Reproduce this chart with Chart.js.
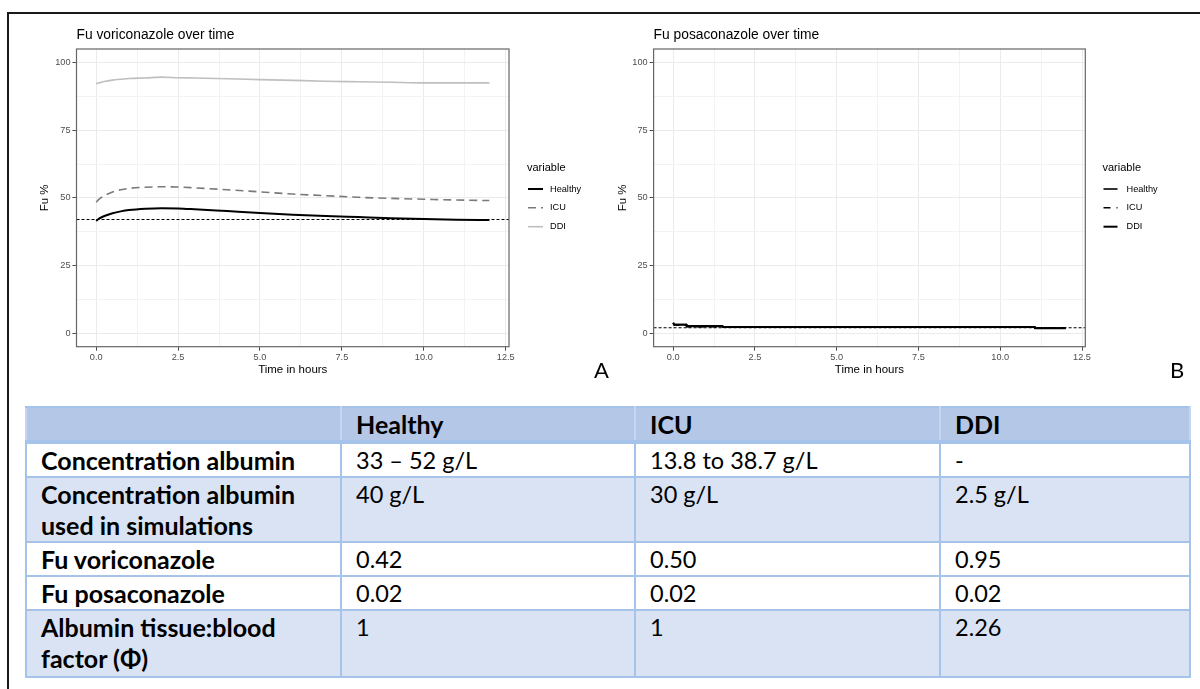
<!DOCTYPE html>
<html>
<head>
<meta charset="utf-8">
<script src="https://cdn.jsdelivr.net/npm/chart.js@4.4.1/dist/chart.umd.min.js"></script>
<style>
html,body{margin:0;padding:0;background:#fff;}
body{width:1200px;height:689px;overflow:hidden;position:relative;font-family:"Liberation Sans",Arial,sans-serif;}
#frameTop{position:absolute;left:7px;top:12px;width:1193px;height:2px;background:#1a1a1a;}
#frameLeft{position:absolute;left:7px;top:12px;width:2px;height:677px;background:#1a1a1a;}
.wrap{position:absolute;top:0;width:600px;height:390px;}
#wrapA{left:0;} #wrapB{left:600px;}
.tag{position:absolute;top:359px;font-family:Lato,"Open Sans",sans-serif;font-size:22px;line-height:22px;color:#000;}
#tbl{position:absolute;left:25px;top:405.5px;border-collapse:collapse;table-layout:fixed;width:1164px;font-family:Lato,"Open Sans",sans-serif;font-size:23.5px;color:#000;}
#tbl td,#tbl th{border:2.5px solid #a6c4e9;padding:1px 10px 0 14px;line-height:31px;vertical-align:top;text-align:left;font-weight:normal;}
#tbl th{background:#b4c7e7;font-weight:bold;font-size:25px;border-bottom:4px solid #a6c4e9;border-left-color:#c6d6ef;border-right-color:#c6d6ef;}
#tbl td:first-child{font-weight:bold;font-size:25px;}
#tbl tr.r1 td,#tbl tr.r3 td,#tbl tr.r4 td{background:#ffffff;}
#tbl tr.r2 td,#tbl tr.r5 td{background:#dae3f3;}
#tbl tr.h{height:34px;} #tbl tr.r1{height:34px;} #tbl tr.r2{height:65.8px;}
#tbl tr.r3{height:33px;} #tbl tr.r4{height:33.5px;} #tbl tr.r5{height:66.5px;}
</style>
</head>
<body>
<div id="frameTop"></div>
<div id="frameLeft"></div>
<div class="wrap" id="wrapA"><canvas id="chartA" width="600" height="390"></canvas></div>
<div class="wrap" id="wrapB"><canvas id="chartB" width="600" height="390"></canvas></div>
<div class="tag" style="left:594px;">A</div>
<div class="tag" style="left:1170px;">B</div>
<table id="tbl">
<colgroup><col style="width:315px"><col style="width:294px"><col style="width:305px"><col style="width:250px"></colgroup>
<thead><tr class="h" id="headRow"></tr></thead>
<tbody id="tbody"></tbody>
</table>
<script>
// ---------- data: panel A (voriconazole) ----------
const timeVori    = [0, 0.1, 0.25, 0.5, 0.75, 1, 1.5, 2, 2.5, 3, 4, 5, 6, 7, 8, 9, 10, 11, 12];
const healthyVori = [41.5, 42.4, 43.3, 44.3, 45.0, 45.5, 46.0, 46.2, 46.1, 45.8, 45.1, 44.4, 43.8, 43.3, 42.9, 42.5, 42.2, 41.9, 41.8];
const icuVori     = [48.4, 49.6, 50.8, 52.2, 53.0, 53.5, 53.9, 54.1, 54.0, 53.7, 53.0, 52.2, 51.4, 50.8, 50.2, 49.8, 49.5, 49.2, 49.0];
const ddiVori     = [92.2, 92.5, 93.0, 93.5, 93.8, 94.1, 94.3, 94.6, 94.4, 94.3, 94.0, 93.7, 93.4, 93.1, 92.9, 92.7, 92.5, 92.5, 92.5];
const refVori = 42;

// ---------- data: panel B (posaconazole) ----------
const timePosa    = [0, 0.03, 0.4, 0.41, 1.5, 1.51, 11.05, 11.06, 12];
const healthyPosa = [3.9, 3.2, 3.2, 2.7, 2.7, 2.3, 2.3, 1.9, 1.9];
const icuPosa     = [3.6, 3.0, 3.0, 2.4, 2.4, 2.2, 2.2, 1.9, 1.9];
const ddiPosa     = [3.8, 3.1, 3.1, 2.6, 2.6, 2.3, 2.3, 1.8, 1.8];
const refPosa = 2;

const seriesNames = ['Healthy', 'ICU', 'DDI'];

// ---------- axes ----------
const xMin = -0.6, xMax = 12.6, yMin = -5, yMax = 105;
const xMajorTicks = [0, 2.5, 5, 7.5, 10, 12.5];
const xTickLabels = ['0.0', '2.5', '5.0', '7.5', '10.0', '12.5'];
const xMinorTicks = [1.25, 3.75, 6.25, 8.75, 11.25];
const yMajorTicks = [0, 25, 50, 75, 100];
const yTickLabels = ['0', '25', '50', '75', '100'];
const yMinorTicks = [12.5, 37.5, 62.5, 87.5];

const titles = ['Fu voriconazole over time', 'Fu posaconazole over time'];
const xTitle = 'Time in hours';
const yTitle = 'Fu %';
const legendTitle = 'variable';

// ---------- table ----------
const tableHeader = ['', 'Healthy', 'ICU', 'DDI'];
const rowLabels = ['Concentration albumin', 'Concentration albumin used in simulations', 'Fu voriconazole', 'Fu posaconazole', 'Albumin tissue:blood factor (\u03A6)'];
const healthyCol = ['33 \u2013 52 g/L', '40 g/L', '0.42', '0.02', '1'];
const icuCol = ['13.8 to 38.7 g/L', '30 g/L', '0.50', '0.02', '1'];
const ddiCol = ['-', '2.5 g/L', '0.95', '0.02', '2.26'];

// build table
const headRow = document.getElementById('headRow');
tableHeader.forEach(h => { const th = document.createElement('th'); th.textContent = h; headRow.appendChild(th); });
const tbody = document.getElementById('tbody');
rowLabels.forEach((lab, i) => {
  const tr = document.createElement('tr'); tr.className = 'r' + (i + 1);
  [lab, healthyCol[i], icuCol[i], ddiCol[i]].forEach(v => { const td = document.createElement('td'); td.textContent = v; tr.appendChild(td); });
  tbody.appendChild(tr);
});

// ---------- charts ----------
const FONT = '"Liberation Sans", Arial, sans-serif';
const pts = (xs, ys) => xs.map((x, i) => ({x: x, y: ys[i]}));

const ggDecor = {
  id: 'ggDecor',
  afterDraw(chart, args, o) {
    const ctx = chart.ctx, a = chart.chartArea;
    ctx.save();
    ctx.strokeStyle = '#666'; ctx.lineWidth = 1.2; ctx.setLineDash([]);
    ctx.strokeRect(a.left, a.top, a.right - a.left, a.bottom - a.top);
    ctx.fillStyle = '#000'; ctx.textAlign = 'left'; ctx.textBaseline = 'middle';
    ctx.font = '13.8px ' + FONT;
    ctx.fillText(o.title, a.left, o.titleY);
    ctx.font = '11px ' + FONT;
    ctx.fillText(legendTitle, o.legendX, o.legendTitleY);
    ctx.font = '9.2px ' + FONT;
    let row = 0;
    chart.data.datasets.forEach(ds => {
      if (ds.isReference) return;
      const y = o.legendRowY[row];
      ctx.beginPath();
      ctx.setLineDash(ds.borderDash || []);
      ctx.lineWidth = ds.borderWidth; ctx.strokeStyle = ds.borderColor;
      ctx.moveTo(o.legendX + 1, y); ctx.lineTo(o.legendX + 1 + o.keyLen, y); ctx.stroke();
      ctx.setLineDash([]);
      ctx.fillStyle = '#000';
      ctx.fillText(ds.label, o.legendX + o.textOffset, y);
      row++;
    });
    ctx.restore();
  }
};

function axis(kind, majors, minors, labels, fitSize, titlePad) {
  const all = majors.concat(minors).sort((p, q) => p - q);
  const isMajor = v => majors.indexOf(v) >= 0;
  return {
    type: 'linear',
    position: kind === 'x' ? 'bottom' : 'left',
    min: kind === 'x' ? xMin : yMin,
    max: kind === 'x' ? xMax : yMax,
    afterBuildTicks: s => { s.ticks = all.map(v => ({value: v})); },
    afterFit: s => { if (kind === 'x') s.height = fitSize; else s.width = fitSize; },
    border: {display: false},
    grid: {
      color: c => (c.tick && isMajor(c.tick.value)) ? '#ebebeb' : '#f3f3f3',
      lineWidth: 1,
      drawTicks: true,
      tickLength: 4,
      tickWidth: 1,
      tickColor: c => (c.tick && isMajor(c.tick.value)) ? '#4d4d4d' : 'rgba(0,0,0,0)'
    },
    ticks: {
      autoSkip: false, maxRotation: 0, minRotation: 0,
      padding: kind === 'x' ? 1 : 2,
      color: '#4d4d4d',
      font: {family: FONT, size: 9.2},
      callback: v => { const i = majors.indexOf(v); return i >= 0 ? labels[i] : ''; }
    },
    title: {
      display: true,
      text: kind === 'x' ? xTitle : yTitle,
      color: '#000',
      font: {family: FONT, size: 11.5},
      padding: kind === 'x' ? {top: 0, bottom: 3} : {top: titlePad, bottom: 0}
    }
  };
}

function makeChart(id, cfg) {
  return new Chart(document.getElementById(id), {
    type: 'line',
    data: {datasets: cfg.datasets},
    options: {
      responsive: false, animation: false, devicePixelRatio: 1,
      layout: {padding: {left: 0, top: 49, right: cfg.padRight, bottom: 10}},
      elements: {point: {radius: 0}, line: {tension: 0, borderJoinStyle: 'round', borderCapStyle: 'butt'}},
      plugins: {legend: {display: false}, tooltip: {enabled: false}, ggDecor: cfg.decor},
      scales: {
        x: axis('x', xMajorTicks, xMinorTicks, xTickLabels, 33.3, 0),
        y: axis('y', yMajorTicks, yMinorTicks, yTickLabels, cfg.yWidth, cfg.yTitlePad)
      }
    },
    plugins: [ggDecor]
  });
}

makeChart('chartA', {
  padRight: 91, yWidth: 76.5, yTitlePad: 38,
  decor: {title: titles[0], titleY: 35, legendX: 527, legendTitleY: 168.3, legendRowY: [189, 207.7, 226.7], keyLen: 15, textOffset: 23},
  datasets: [
    {label: seriesNames[0], data: pts(timeVori, healthyVori), borderColor: '#000000', borderWidth: 2, cubicInterpolationMode: 'monotone'},
    {label: seriesNames[1], data: pts(timeVori, icuVori), borderColor: '#7a7a7a', borderWidth: 1.6, borderDash: [8, 5], cubicInterpolationMode: 'monotone'},
    {label: seriesNames[2], data: pts(timeVori, ddiVori), borderColor: '#bfbfbf', borderWidth: 1.6, cubicInterpolationMode: 'monotone'},
    {label: 'ref', isReference: true, data: pts([xMin, xMax], [refVori, refVori]), borderColor: '#000000', borderWidth: 1, borderDash: [3, 2]}
  ]
});

makeChart('chartB', {
  padRight: 114.7, yWidth: 53.6, yTitlePad: 16,
  decor: {title: titles[1], titleY: 35, legendX: 502.5, legendTitleY: 168.3, legendRowY: [189, 207.7, 226.7], keyLen: 14, textOffset: 24},
  datasets: [
    {label: seriesNames[0], data: pts(timePosa, healthyPosa), borderColor: '#000000', borderWidth: 1.6},
    {label: seriesNames[1], data: pts(timePosa, icuPosa), borderColor: '#000000', borderWidth: 1.6, borderDash: [7, 6]},
    {label: seriesNames[2], data: pts(timePosa, ddiPosa), borderColor: '#000000', borderWidth: 2},
    {label: 'ref', isReference: true, data: pts([xMin, xMax], [refPosa, refPosa]), borderColor: '#000000', borderWidth: 1, borderDash: [3, 2]}
  ]
});
</script>
</body>
</html>
